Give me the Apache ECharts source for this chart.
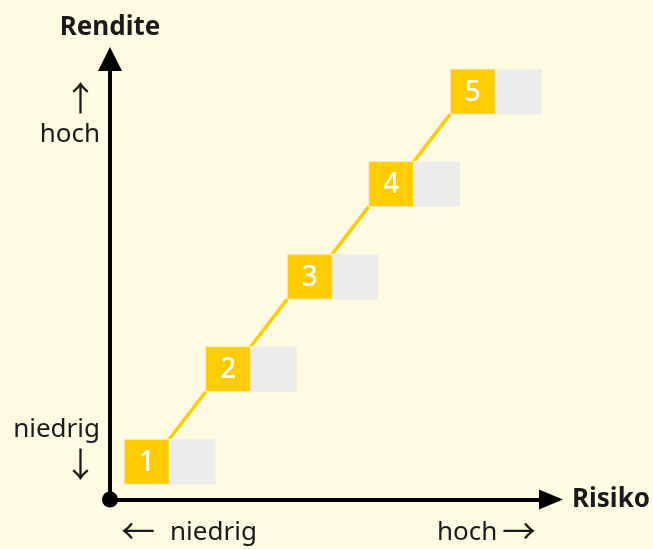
<!DOCTYPE html>
<html><head><meta charset="utf-8">
<script src="https://cdn.jsdelivr.net/npm/echarts@6/dist/echarts.min.js"></script>
<style>html,body{margin:0;padding:0;background:#fffbe3}#c{width:653px;height:549px}</style>
</head><body><div id="c"></div>
<script>
// Data
const boxLabels = ['1', '2', '3', '4', '5'];
const riskValues = [1, 2, 3, 4, 5];
const returnValues = [1, 2, 3, 4, 5];
const yTickLabels = ['hoch', 'niedrig'];
const xTickLabels = ['niedrig', 'hoch'];
const xName = 'Risiko';
const yName = 'Rendite';

const xMin = 0.55, xMax = 5.96;
const yMin = 0.592, yMax = 5.352;

const FONT = '"Noto Sans", "DejaVu Sans", sans-serif';
const ARROWFONT = '"Noto Sans CJK JP", "DejaVu Sans", sans-serif';
const TXT = '#1a1a1a';
const YELLOW = '#ffcc00';
const GREY = '#ebebea';
const HALF = 22.5;

const chart = echarts.init(document.getElementById('c'), null, {renderer: 'canvas'});

const points = riskValues.map((v, i) => [v, returnValues[i]]);

chart.setOption({
  backgroundColor: '#fffbe3',
  animation: false,
  grid: {left: 110, right: 102, top: 59, bottom: 49.5},
  xAxis: {
    type: 'value', min: xMin, max: xMax,
    name: xName, nameLocation: 'end', nameGap: 21,
    nameTextStyle: {fontFamily: FONT, fontWeight: 'bold', fontSize: 26, color: TXT},
    axisLine: {show: true, onZero: false, symbol: ['none', 'triangle'], symbolSize: [20, 24],
      lineStyle: {color: '#000', width: 4}},
    axisTick: {show: false}, axisLabel: {show: false}, splitLine: {show: false}
  },
  yAxis: {
    type: 'value', min: yMin, max: yMax,
    name: yName, nameLocation: 'end', nameGap: 18,
    nameTextStyle: {fontFamily: FONT, fontWeight: 'bold', fontSize: 26, color: TXT},
    axisLine: {show: true, onZero: false, symbol: ['none', 'triangle'], symbolSize: [24, 24],
      lineStyle: {color: '#000', width: 4}},
    axisTick: {show: false}, axisLabel: {show: false}, splitLine: {show: false}
  },
  series: [
    {
      type: 'custom', z: 1,
      data: points.slice(0, points.length - 1),
      renderItem: function (params, api) {
        const i = params.dataIndex;
        const a = api.coord(points[i]);
        const b = api.coord(points[i + 1]);
        return {
          type: 'line',
          shape: {x1: a[0] + HALF, y1: a[1] - HALF, x2: b[0] - HALF, y2: b[1] + HALF},
          style: {stroke: YELLOW, lineWidth: 3.5}
        };
      }
    },
    {
      type: 'custom', z: 2,
      data: points,
      renderItem: function (params, api) {
        const p = api.coord([api.value(0), api.value(1)]);
        return {
          type: 'group',
          children: [
            {type: 'rect', shape: {x: p[0] + HALF, y: p[1] - HALF, width: 46, height: 45},
              style: {fill: GREY, stroke: '#f2efe0', lineWidth: 1}},
            {type: 'rect', shape: {x: p[0] - HALF, y: p[1] - HALF, width: 45, height: 45},
              style: {fill: YELLOW, stroke: '#f5ecc8', lineWidth: 1}},
            {type: 'text', style: {text: boxLabels[params.dataIndex], x: p[0], y: p[1] + 1,
              align: 'center', verticalAlign: 'middle', fill: '#ffffff',
              font: '500 28px ' + FONT}}
          ]
        };
      }
    },
    {
      type: 'scatter', z: 3, symbol: 'circle', symbolSize: 16,
      itemStyle: {color: '#000', opacity: 1}, silent: true,
      data: [[xMin, yMin]]
    }
  ],
  graphic: [
    {type: 'text', x: 80.5, y: 98, style: {text: '↑', align: 'center', verticalAlign: 'middle', font: '34px ' + ARROWFONT, fill: TXT}},
    {type: 'text', x: 100, y: 135, style: {text: yTickLabels[0], align: 'right', verticalAlign: 'middle', font: '26px ' + FONT, fill: TXT}},
    {type: 'text', x: 100, y: 430, style: {text: yTickLabels[1], align: 'right', verticalAlign: 'middle', font: '26px ' + FONT, fill: TXT}},
    {type: 'text', x: 80.5, y: 464.5, style: {text: '↓', align: 'center', verticalAlign: 'middle', font: '34px ' + ARROWFONT, fill: TXT}},
    {type: 'text', x: 138, y: 531, style: {text: '←', align: 'center', verticalAlign: 'middle', font: '34px ' + ARROWFONT, fill: TXT}},
    {type: 'text', x: 170, y: 533, style: {text: xTickLabels[0], align: 'left', verticalAlign: 'middle', font: '26px ' + FONT, fill: TXT}},
    {type: 'text', x: 437, y: 533, style: {text: xTickLabels[1], align: 'left', verticalAlign: 'middle', font: '26px ' + FONT, fill: TXT}},
    {type: 'text', x: 519, y: 531, style: {text: '→', align: 'center', verticalAlign: 'middle', font: '34px ' + ARROWFONT, fill: TXT}}
  ]
});
</script>
</body></html>
